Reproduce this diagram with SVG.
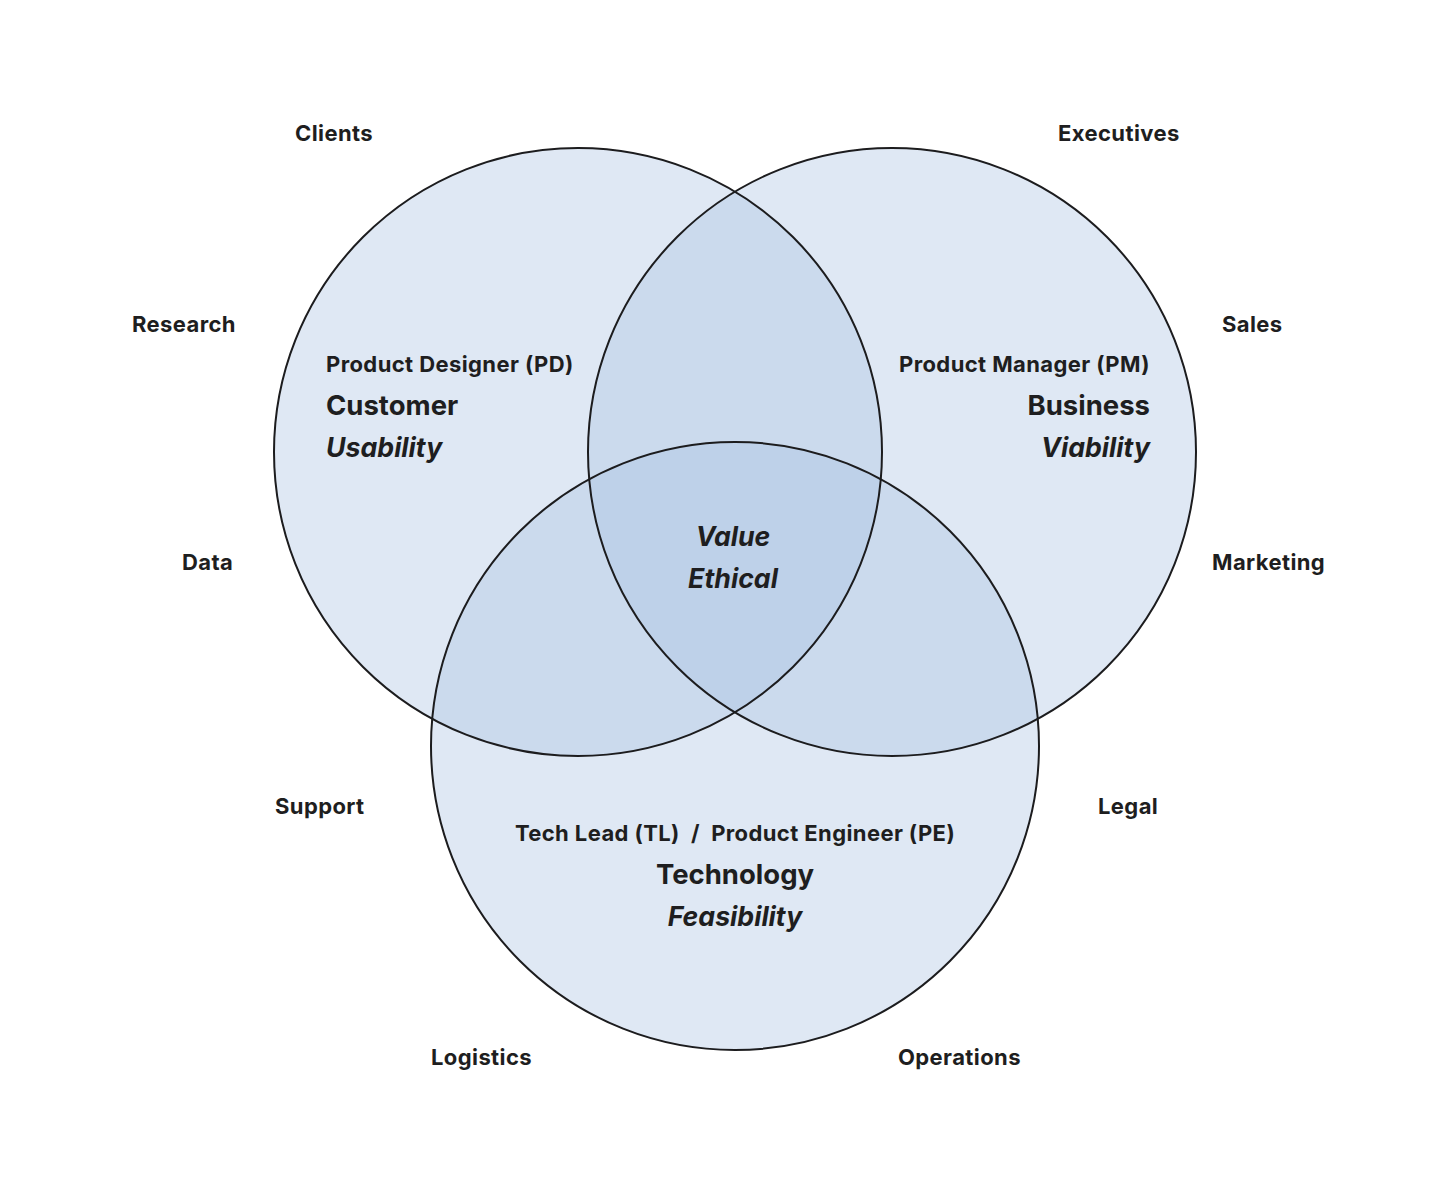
<svg xmlns="http://www.w3.org/2000/svg" width="1456" height="1188" viewBox="0 0 1456 1188">
<style>
.c{fill:rgb(170,194,226);fill-opacity:0.375;stroke:none}
.o{fill:none;stroke:#1c1c1e;stroke-width:2}
text{font-family:Inter,"Noto Sans","Liberation Sans",sans-serif;fill:#1e1e20}
.l{font-size:22px;font-weight:700;letter-spacing:0.4px}
.r{font-size:22px;font-weight:700;letter-spacing:0.4px}
.b{font-size:27.5px;font-weight:700}
.i{font-size:26.7px;font-weight:700;font-style:italic}
</style>
<rect width="1456" height="1188" fill="#fff"/>
<g id="circles">
<g id="circle-customer"><circle class="c" cx="578" cy="452" r="304"/></g>
<g id="circle-business"><circle class="c" cx="892" cy="452" r="304"/></g>
<g id="circle-technology"><circle class="c" cx="735" cy="746" r="304"/></g>
<circle class="o" cx="578" cy="452" r="304"/>
<circle class="o" cx="892" cy="452" r="304"/>
<circle class="o" cx="735" cy="746" r="304"/>
</g>
<g id="connectors"></g>
<g id="customer-text">
<text class="r" x="326" y="372">Product Designer (PD)</text>
<text class="b" x="326" y="415">Customer</text>
<text class="i" x="326" y="457">Usability</text>
</g>
<g id="business-text" text-anchor="end">
<text class="r" x="1150" y="372">Product Manager (PM)</text>
<text class="b" x="1150" y="415">Business</text>
<text class="i" x="1150" y="457">Viability</text>
</g>
<g id="technology-text" text-anchor="middle">
<text class="r" x="735" y="841" xml:space="preserve">Tech Lead (TL)  /  Product Engineer (PE)</text>
<text class="b" x="735" y="884">Technology</text>
<text class="i" x="735" y="926">Feasibility</text>
</g>
<g id="center-text" text-anchor="middle">
<text class="i" x="733" y="546">Value</text>
<text class="i" x="733" y="588">Ethical</text>
</g>
<g id="outer-labels">
<text class="l" x="295" y="141">Clients</text>
<text class="l" x="1058" y="141">Executives</text>
<text class="l" x="132" y="332">Research</text>
<text class="l" x="1222" y="332">Sales</text>
<text class="l" x="182" y="570">Data</text>
<text class="l" x="1212" y="570">Marketing</text>
<text class="l" x="275" y="814">Support</text>
<text class="l" x="1098" y="814">Legal</text>
<text class="l" x="431" y="1065">Logistics</text>
<text class="l" x="898" y="1065">Operations</text>
</g>
</svg>
